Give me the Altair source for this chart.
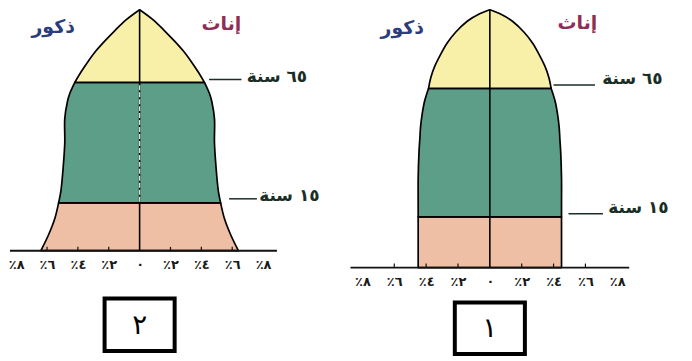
import altair as alt
import pandas as pd

# ---------------- data ----------------
# Panel 2 (left): half-width (%) of the pyramid at each age (same both sexes)
ages_2 = [0, 5, 10, 15, 20, 30, 40, 50, 57, 60, 65, 70, 75, 80, 85, 90, 95, 100]
pct_2 = [6.4, 5.9, 5.5, 5.25, 5.1, 4.95, 4.85, 4.85, 4.68, 4.55, 4.2, 3.8, 3.35, 2.85, 2.25, 1.6, 0.9, 0.0]

# Panel 1 (right)
ages_1 = [0, 5, 10, 15, 20, 30, 40, 45, 50, 55, 60, 65, 70, 75, 80, 85, 90, 95, 98, 100]
pct_1 = [4.5, 4.5, 4.5, 4.5, 4.5, 4.5, 4.45, 4.4, 4.35, 4.25, 4.1, 3.85, 3.7, 3.45, 3.1, 2.7, 2.15, 1.4, 0.7, 0.0]

band_names = ["0-15", "15-65", "65+"]
band_edges = [0, 15, 65, 100]
band_colors = ["#eebfa5", "#5d9e88", "#f8f0a8"]

tick_values = [-8, -6, -4, -2, 0, 2, 4, 6, 8]
tick_labels = ["٪٨", "٪٦", "٪٤", "٪٢", "٠", "٪٢", "٪٤", "٪٦", "٪٨"]
minor_ticks = [-6, -4, -2, 2, 4, 6]

sex_labels = ["ذكور", "إناث"]
sex_colors = ["#2b3d7c", "#8e2d55"]
age_labels = ["٦٥ سنة", "١٥ سنة"]
panel_numbers = ["٢", "١"]

FONT = "DejaVu Sans"

label_expr = ""
for v, t in zip(tick_values, tick_labels):
    label_expr += f"datum.value == {v} ? '{t}' : "
label_expr += "''"


def bands_df(ages, pct):
    rows = []
    for name, lo, hi in zip(band_names, band_edges[:-1], band_edges[1:]):
        for a, p in zip(ages, pct):
            if lo <= a <= hi:
                rows.append({"band": name, "age": a, "lo": -p, "hi": p})
    return pd.DataFrame(rows)


def panel(ages, pct, number, xdom, width, height, yrange, cfg):
    xs = alt.Scale(domain=xdom, nice=False, zero=False)
    ys = alt.Scale(domain=band_edges, range=yrange, nice=False, zero=False)
    df = bands_df(ages, pct)

    base = alt.Chart(df)
    area = base.mark_area(
        orient="horizontal", interpolate="catmull-rom",
        stroke="black", strokeWidth=1.7, strokeJoin="round", opacity=1,
    ).encode(
        y=alt.Y("age:Q", scale=ys, axis=None),
        x=alt.X("lo:Q", scale=xs, stack=None, axis=alt.Axis(
            values=tick_values, labelExpr=label_expr, title=None, grid=False,
            domain=False, ticks=False, labelFont=FONT, labelFontSize=13,
            labelFontWeight="bold", labelColor="#1a1a1a", labelPadding=8,
            labelFlush=False, labelOverlap=False)),
        x2="hi:Q",
        fill=alt.Fill("band:N", scale=alt.Scale(domain=band_names, range=band_colors), legend=None),
    )

    center = alt.Chart(pd.DataFrame({"x": [0], "a": [band_edges[0]], "b": [band_edges[-1]]})).mark_rule(
        color="black", strokeWidth=1.6
    ).encode(x=alt.X("x:Q", scale=xs), y=alt.Y("a:Q", scale=ys), y2="b:Q")

    baseline = alt.Chart(pd.DataFrame({"x": [cfg["axis_from"]], "x2": [cfg["axis_to"]], "y": [0]})).mark_rule(
        color="#111111", strokeWidth=2
    ).encode(x=alt.X("x:Q", scale=xs), x2="x2:Q", y=alt.Y("y:Q", scale=ys))

    ticks = alt.Chart(pd.DataFrame({"x": minor_ticks, "y": [0] * len(minor_ticks), "y2": [cfg["tick_len"]] * len(minor_ticks)})).mark_rule(
        color="#111111", strokeWidth=1.2
    ).encode(x=alt.X("x:Q", scale=xs), y=alt.Y("y:Q", scale=ys), y2="y2:Q")

    # leader lines for 65 and 15 years
    lead = pd.DataFrame({
        "x": cfg["lead_x"], "x2": cfg["lead_x2"], "y": cfg["lead_y"],
        "tx": cfg["text_x"], "label": age_labels,
    })
    leaders = alt.Chart(lead).mark_rule(color="#1b2e26", strokeWidth=1.5).encode(
        x=alt.X("x:Q", scale=xs), x2="x2:Q", y=alt.Y("y:Q", scale=ys))
    lead_text = alt.Chart(lead).mark_text(
        align="left", baseline="middle", font=FONT, fontSize=17, fontWeight="bold",
        color="#1b2e26", dy=cfg["text_dy"],
    ).encode(x=alt.X("tx:Q", scale=xs), y=alt.Y("y:Q", scale=ys), text="label:N")

    sexes = pd.DataFrame({"x": cfg["sex_x"], "y": cfg["sex_y"], "label": sex_labels, "c": sex_labels})
    sex_text = alt.Chart(sexes).mark_text(
        align="center", baseline="middle", font=FONT, fontSize=19, fontWeight="bold"
    ).encode(
        x=alt.X("x:Q", scale=xs), y=alt.Y("y:Q", scale=ys), text="label:N",
        color=alt.Color("c:N", scale=alt.Scale(domain=sex_labels, range=sex_colors), legend=None),
    )

    box_df = pd.DataFrame({"x": [-cfg["box_half"]], "x2": [cfg["box_half"]],
                           "y": [cfg["box_y"][0]], "y2": [cfg["box_y"][1]],
                           "xm": [0], "ym": [(cfg["box_y"][0] + cfg["box_y"][1]) / 2], "n": [number]})
    box = alt.Chart(box_df).mark_rect(fill="white", stroke="black", strokeWidth=4).encode(
        x=alt.X("x:Q", scale=xs), x2="x2:Q", y=alt.Y("y:Q", scale=ys), y2="y2:Q")
    box_text = alt.Chart(box_df).mark_text(
        font=FONT, fontSize=28, color="black", baseline="middle", align="center", dy=1
    ).encode(x=alt.X("xm:Q", scale=xs), y=alt.Y("ym:Q", scale=ys), text="n:N")

    layers = [area]
    if cfg.get("light_center"):
        light = alt.Chart(pd.DataFrame({"x": [0], "a": [15.5], "b": [64.5]})).mark_rule(
            color="#cfe2d8", strokeWidth=1.3, strokeDash=[5, 2]
        ).encode(x=alt.X("x:Q", scale=xs), y=alt.Y("a:Q", scale=ys), y2="b:Q")
        layers += [center, light]
    else:
        layers += [center]
    layers += [baseline, ticks, leaders, lead_text, sex_text, box, box_text]

    return alt.layer(*layers).resolve_scale(color="independent", fill="independent").properties(
        width=width, height=height, view=alt.ViewBackground(stroke=None)
    )


left = panel(
    ages_2, pct_2, panel_numbers[0],
    xdom=[-8.4, 13.6], width=341, height=242, yrange=[242, 194, 73, 0],
    cfg=dict(axis_from=-8.4, axis_to=8.9, tick_len=1.2,
             lead_x=[4.5, 5.8], lead_x2=[6.6, 7.6], lead_y=[66.4, 16.7],
             text_x=[6.95, 7.75], text_dy=-3,
             sex_x=[-5.6, 5.3], sex_y=[91.8, 93.2],
             box_half=2.27, box_y=[-15, -31.5], light_center=True),
)

right = panel(
    ages_1, pct_1, panel_numbers[1],
    xdom=[-8.75, 12.19], width=335, height=259, yrange=[259, 208, 79, 0],
    cfg=dict(axis_from=-8.75, axis_to=8.75, tick_len=1.2,
             lead_x=[4.0, 4.94], lead_x2=[6.6, 7.1], lead_y=[66.5, 16.2],
             text_x=[7.06, 7.44], text_dy=-6,
             sex_x=[-5.5, 5.5], sex_y=[91.8, 94.0],
             box_half=2.2, box_y=[-10.3, -25.5]),
)

chart = alt.hconcat(left, right, spacing=0).properties(
    padding=0, background="white"
).configure_view(stroke=None)

chart.save("out.html", embed_options={"renderer": "svg", "actions": False})
